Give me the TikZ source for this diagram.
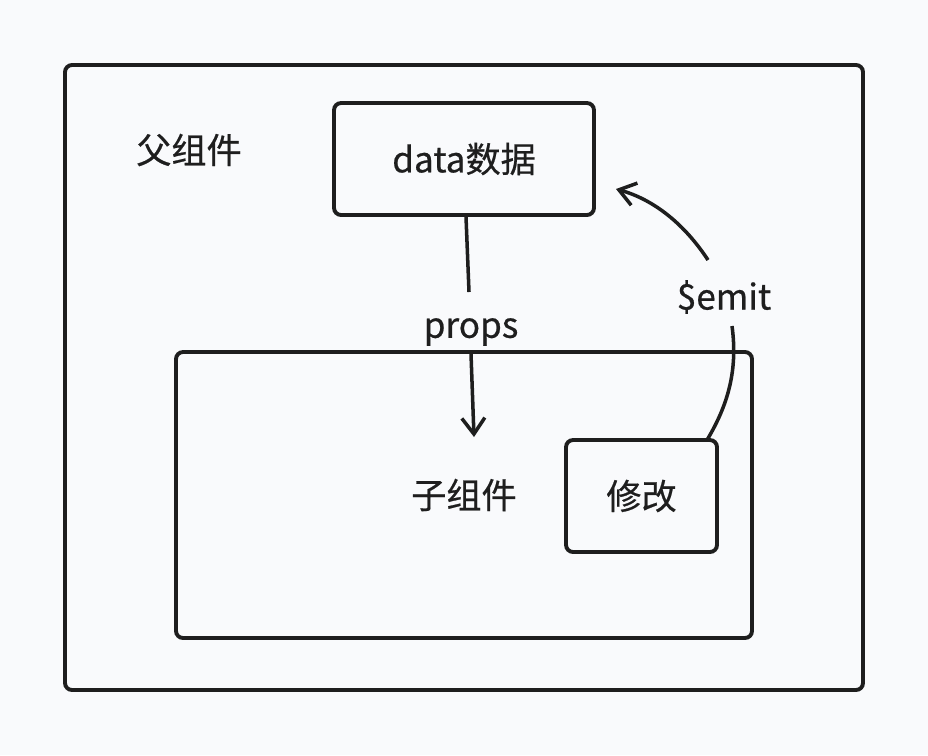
\documentclass[tikz,border=0pt]{standalone}
\usepackage{fontspec}
\setmainfont{Noto Sans CJK SC}[UprightFeatures={FakeBold=0.6}]
\usepackage{tikz}
\usetikzlibrary{arrows.meta,positioning,calc}
\definecolor{bgpaper}{HTML}{F9FAFC}
\definecolor{inkdark}{HTML}{1E1E1E}

\begin{document}
\begin{tikzpicture}[x=0.02cm, y=-0.02cm,
  box/.style={draw=inkdark, line width=2.2pt, rounded corners=4pt},
  lbl/.style={font=\fontsize{20}{24}\selectfont, text=inkdark, inner sep=2pt},
  arr/.style={-{Straight Barb[length=3.2mm,width=4.6mm]}, line width=2pt, draw=inkdark},
  wire/.style={line width=2pt, draw=inkdark},
]
  \fill[bgpaper] (0,0) rectangle (928,755);
  \useasboundingbox (0,0) rectangle (928,755);

  % boxes
  \draw[box] (65,65) rectangle (863,690);
  \node[box, minimum width=5.2cm, minimum height=2.24cm, lbl] (data) at (464,159) {data数据};
  \node[box, minimum width=3.02cm, minimum height=2.24cm, lbl] (xiugai) at (641.5,496) {修改};

  % labels
  \node[lbl] (parent) at (189,150) {父组件};
  \node[lbl] (child) at (464,495) {子组件};
  \node[lbl] (props) at (471,332) {props};
  \node[lbl] (emit) at (724,297) {\$emit};

  % props connector
  \coordinate (propstop) at (469,292);
  \coordinate (propsbot) at (471,354);
  \coordinate (propsend) at (474,437);
  \draw[wire] (data.south -| 466,0) -- (propstop);
  \draw[arr] (propsbot) -- (propsend);

  % $emit connector
  \coordinate (emitstart) at (707,440);
  \coordinate (emitlow) at (732,326);
  \coordinate (emithigh) at (708,260);
  \coordinate (emitend) at (616,189);
  \draw[wire] (emitstart) .. controls (728,405) and (738,370) .. (emitlow);
  \draw[arr] (emithigh) .. controls (685,225) and (655,200) .. (emitend);

  % child box on top
  \draw[box] (176,352) rectangle (752,638);
\end{tikzpicture}
\end{document}
